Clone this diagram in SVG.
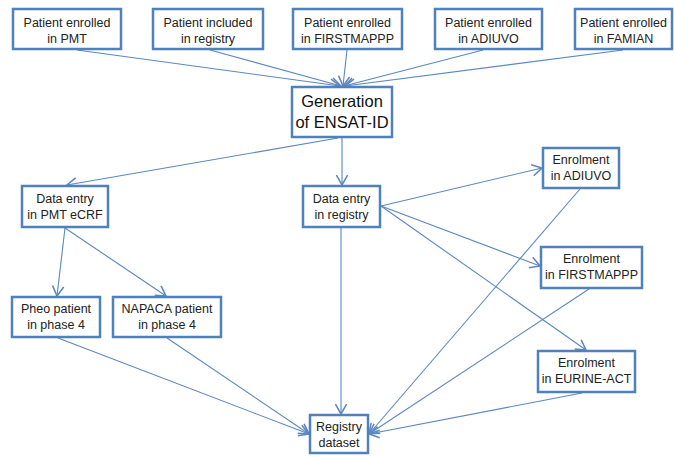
<svg xmlns="http://www.w3.org/2000/svg" width="674" height="457" viewBox="0 0 674 457">
<style>
.box{fill:#ffffff;stroke:#4f81bd;stroke-width:2.5}
.t{font-family:"Liberation Sans",Arial,sans-serif;font-size:12.5px;fill:#222222;text-anchor:middle}
.tb{font-family:"Liberation Sans",Arial,sans-serif;font-size:16.5px;fill:#111111;text-anchor:middle}
.c{stroke:#5b87c0;stroke-width:1.1;fill:none;marker-end:url(#ah)}
</style>
<defs>
<marker id="ah" markerUnits="userSpaceOnUse" markerWidth="14" markerHeight="14" viewBox="-8 -5 10 10" refX="0" refY="0" orient="auto">
<path d="M-7,-4 L0,0 L-7,4" fill="none" stroke="#5b87c0" stroke-width="1.1"/>
</marker>
</defs>
<rect width="674" height="457" fill="#ffffff"/>
<g id="connectors">
<line class="c" x1="77" y1="50" x2="340" y2="86"/>
<line class="c" x1="210" y1="50" x2="341" y2="86"/>
<line class="c" x1="347" y1="50" x2="343" y2="86"/>
<line class="c" x1="483" y1="50" x2="344" y2="86"/>
<line class="c" x1="623" y1="50" x2="345" y2="86"/>
<line class="c" x1="338" y1="138" x2="67" y2="185"/>
<line class="c" x1="342" y1="138" x2="342" y2="185"/>
<line class="c" x1="65" y1="228" x2="57" y2="296"/>
<line class="c" x1="65" y1="228" x2="166" y2="296"/>
<line class="c" x1="381" y1="206" x2="542" y2="168"/>
<line class="c" x1="381" y1="206" x2="540" y2="266"/>
<line class="c" x1="381" y1="206" x2="586" y2="350"/>
<line class="c" x1="341" y1="228" x2="341" y2="414"/>
<line class="c" x1="58" y1="338" x2="309" y2="434"/>
<line class="c" x1="167" y1="338" x2="309" y2="434"/>
<line class="c" x1="580" y1="189" x2="369" y2="434"/>
<line class="c" x1="589" y1="289" x2="369" y2="434"/>
<line class="c" x1="582" y1="393" x2="369" y2="434"/>
</g>
<g id="n1"><rect class="box" x="13" y="9" width="108" height="40"/><text class="t" x="67" y="27">Patient enrolled</text><text class="t" x="67" y="43">in PMT</text></g>
<g id="n2"><rect class="box" x="153" y="9" width="110" height="40"/><text class="t" x="208" y="27">Patient included</text><text class="t" x="208" y="43">in registry</text></g>
<g id="n3"><rect class="box" x="293" y="9" width="109" height="40"/><text class="t" x="347.5" y="27">Patient enrolled</text><text class="t" x="347.5" y="43">in FIRSTMAPPP</text></g>
<g id="n4"><rect class="box" x="435" y="9" width="107" height="40"/><text class="t" x="488.5" y="27">Patient enrolled</text><text class="t" x="488.5" y="43">in ADIUVO</text></g>
<g id="n5"><rect class="box" x="575" y="9" width="97" height="40"/><text class="t" x="623.5" y="27">Patient enrolled</text><text class="t" x="623.5" y="43">in FAMIAN</text></g>
<g id="gen"><rect class="box" x="292" y="87" width="100" height="50"/><text class="tb" x="342" y="107">Generation</text><text class="tb" x="342" y="128">of ENSAT-ID</text></g>
<g id="pmt"><rect class="box" x="22" y="186" width="86" height="41"/><text class="t" x="65" y="203">Data entry</text><text class="t" x="65" y="219">in PMT eCRF</text></g>
<g id="reg"><rect class="box" x="303" y="186" width="77" height="41"/><text class="t" x="341.5" y="203">Data entry</text><text class="t" x="341.5" y="219">in registry</text></g>
<g id="adiuvo"><rect class="box" x="543" y="148" width="76" height="40"/><text class="t" x="581" y="164">Enrolment</text><text class="t" x="581" y="180">in ADIUVO</text></g>
<g id="firstmappp"><rect class="box" x="541" y="247" width="101" height="41"/><text class="t" x="591.5" y="263">Enrolment</text><text class="t" x="591.5" y="279">in FIRSTMAPPP</text></g>
<g id="eurine"><rect class="box" x="538" y="351" width="97" height="41"/><text class="t" x="586.5" y="367">Enrolment</text><text class="t" x="586.5" y="383">in EURINE-ACT</text></g>
<g id="pheo"><rect class="box" x="12" y="297" width="88" height="40"/><text class="t" x="56" y="313">Pheo patient</text><text class="t" x="56" y="329">in phase 4</text></g>
<g id="napaca"><rect class="box" x="113" y="297" width="108" height="40"/><text class="t" x="167" y="313">NAPACA patient</text><text class="t" x="167" y="329">in phase 4</text></g>
<g id="dataset"><rect class="box" x="310" y="415" width="58" height="38"/><text class="t" x="339" y="431">Registry</text><text class="t" x="339" y="447">dataset</text></g>
</svg>
